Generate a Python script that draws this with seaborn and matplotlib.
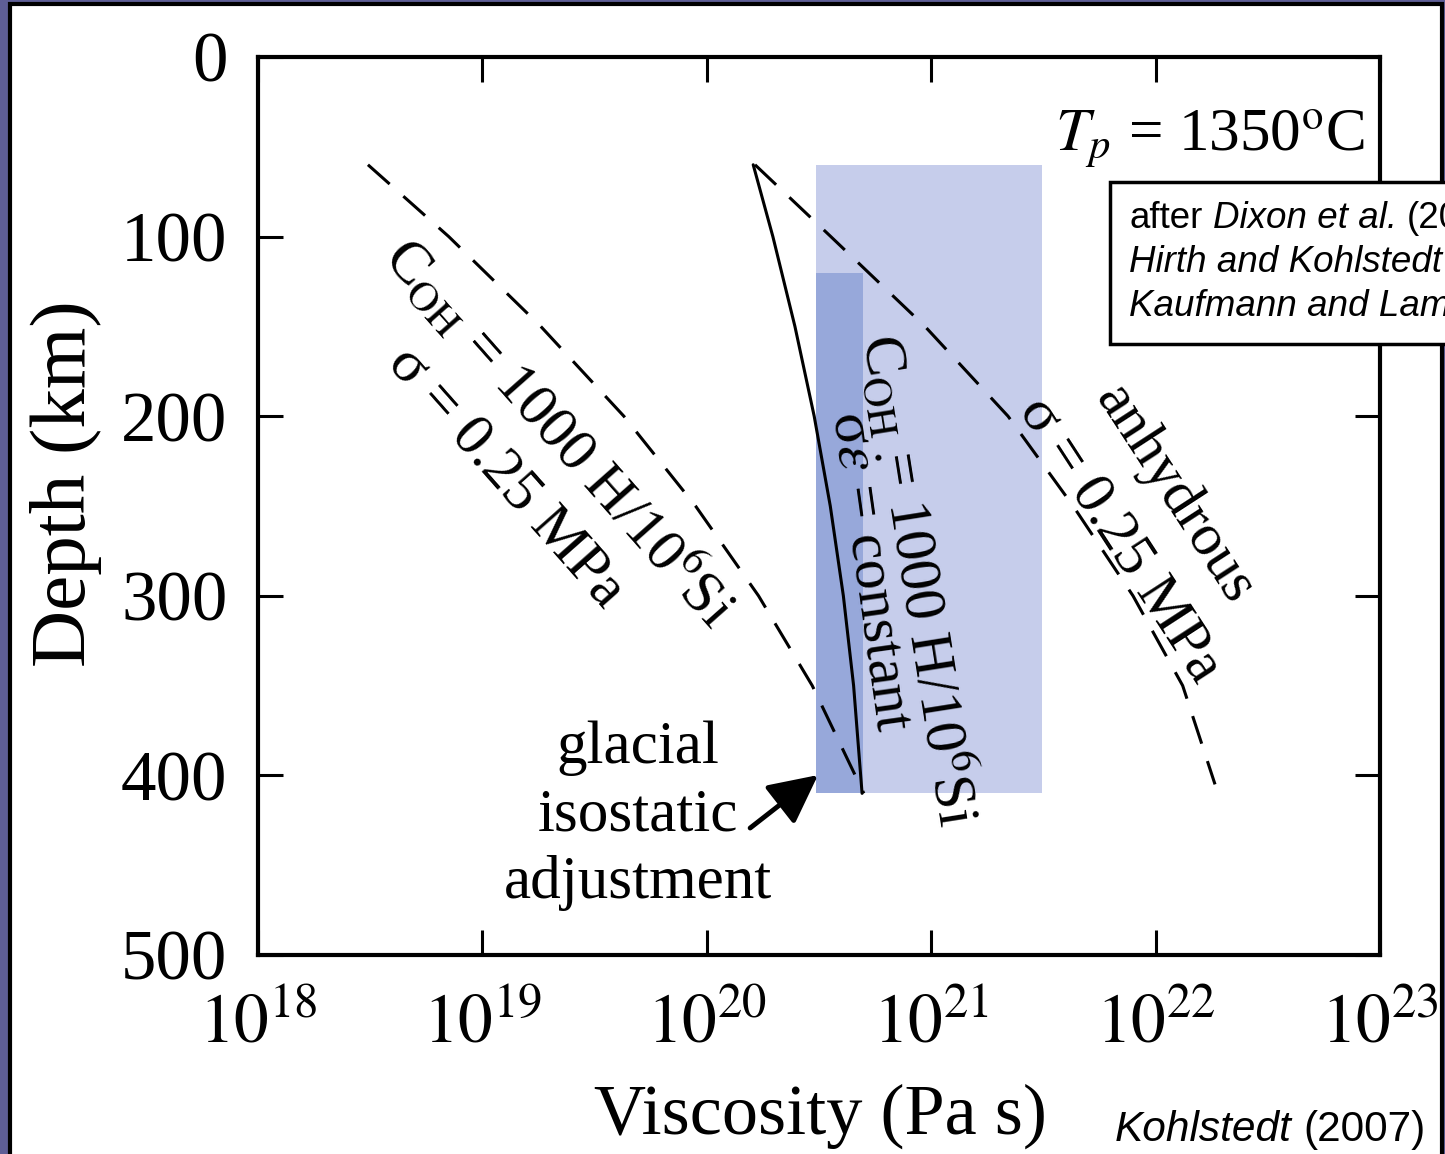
import numpy as np
import pandas as pd
import matplotlib
matplotlib.use("Agg")
import matplotlib.pyplot as plt
import seaborn as sns
from matplotlib.patches import Rectangle
from matplotlib.offsetbox import TextArea, HPacker, VPacker, AnnotationBbox

# ---------------- data ----------------
# wet olivine, constant stress (C_OH = 1000 H/10^6 Si, sigma = 0.25 MPa)
depth_wet_stress = [60, 100, 150, 200, 250, 300, 350, 410]
visc_wet_stress = [3.09e18, 7.08e18, 1.82e19, 4.27e19, 8.91e19, 1.70e20, 2.95e20, 5.01e20]
# anhydrous, sigma = 0.25 MPa
depth_dry_stress = [60, 100, 150, 200, 250, 300, 350, 405]
visc_dry_stress = [1.64e20, 3.57e20, 9.38e20, 2.20e21, 4.29e21, 7.93e21, 1.32e22, 1.84e22]
# wet, sigma * strain rate = constant
depth_wet_rate = [60, 100, 150, 200, 250, 300, 350, 410]
visc_wet_rate = [1.61e20, 1.97e20, 2.47e20, 3.01e20, 3.55e20, 4.06e20, 4.51e20, 4.92e20]

# shaded ranges (glacial isostatic adjustment)
range_visc_light = [3.07e20, 3.12e21]
range_depth_light = [60, 410]
range_visc_dark = [3.07e20, 4.97e20]
range_depth_dark = [120, 410]

x_ticks = [1e18, 1e19, 1e20, 1e21, 1e22, 1e23]
x_tick_labels = [r"$10^{18}$", r"$10^{19}$", r"$10^{20}$", r"$10^{21}$", r"$10^{22}$", r"$10^{23}$"]
y_ticks = [0, 100, 200, 300, 400, 500]
y_tick_labels = ["0", "100", "200", "300", "400", "500"]

# ---------------- style ----------------
sns.set_theme(style="ticks")
plt.rcParams["font.family"] = ["Liberation Serif", "DejaVu Serif"]
plt.rcParams["mathtext.fontset"] = "stix"
plt.rcParams["text.color"] = "black"
plt.rcParams["axes.labelcolor"] = "black"

W, H = 1445, 1154
fig = plt.figure(figsize=(W / 100, H / 100), dpi=100)
fig.patch.set_facecolor("#5e5e96")

# white slide panel with black border
fig.add_artist(Rectangle((10 / W, -0.1), (1442 - 10) / W, 1.1 - 3.5 / H,
                         transform=fig.transFigure, facecolor="white",
                         edgecolor="black", lw=3, zorder=-5))

ax = fig.add_axes([258 / W, (H - 955) / H, (1380 - 258) / W, (955 - 57) / H])
ax.set_facecolor("white")
ax.set_xscale("log")

light = "#c6cdeb"
dark = "#97a8da"
ax.fill_betweenx(range_depth_light, range_visc_light[0], range_visc_light[1],
                 color=light, lw=0, zorder=1)
ax.fill_betweenx(range_depth_dark, range_visc_dark[0], range_visc_dark[1],
                 color=dark, lw=0, zorder=1.1)

dash = (0, (9.5, 6.0))
sns.lineplot(x=visc_wet_stress, y=depth_wet_stress, sort=False, estimator=None,
             color="black", lw=2.2, linestyle=dash, ax=ax, zorder=3)
sns.lineplot(x=visc_dry_stress, y=depth_dry_stress, sort=False, estimator=None,
             color="black", lw=2.2, linestyle=dash, ax=ax, zorder=3)
sns.lineplot(x=visc_wet_rate, y=depth_wet_rate, sort=False, estimator=None,
             color="black", lw=2.2, ax=ax, zorder=3)

ax.set_xlim(1e18, 1e23)
ax.set_ylim(500, 0)
ax.set_xticks(x_ticks)
ax.set_xticklabels(x_tick_labels)
ax.set_yticks(y_ticks)
ax.set_yticklabels(y_tick_labels)
ax.minorticks_off()
ax.tick_params(axis="both", which="major", direction="in", top=True, right=True,
               length=18, width=2.2, color="black", labelcolor="black")
ax.tick_params(axis="x", pad=28, labelsize=50)
ax.tick_params(axis="y", pad=22, labelsize=51)
for s in ax.spines.values():
    s.set_linewidth(3)
    s.set_color("black")

ax.set_xlabel("Viscosity (Pa s)", fontsize=52)
ax.set_ylabel("Depth (km)", fontsize=57)
ax.xaxis.set_label_coords(0.501, -0.143)
ax.yaxis.set_label_coords(-0.139, 0.525)

# curve annotations
tfs = 43
ax.text(2.22e19, 208.8, r"C$_{\mathrm{OH}}$ = 1000 H/10$^6$Si", rotation=-48.5,
        rotation_mode="anchor", ha="center", va="center", fontsize=tfs)
ax.text(1.27e19, 233.9, "σ = 0.25 MPa", rotation=-48.5,
        rotation_mode="anchor", ha="center", va="center", fontsize=tfs)
ax.text(8.83e20, 291.2, r"C$_{\mathrm{OH}}$ = 1000 H/10$^6$Si", rotation=-81,
        rotation_mode="anchor", ha="center", va="center", fontsize=tfs)
ax.text(5.22e20, 286.8, r"σ$\dot{\varepsilon}$ = constant", rotation=-82,
        rotation_mode="anchor", ha="center", va="center", fontsize=tfs)
ax.text(1.22e22, 243.9, "anhydrous", rotation=-57,
        rotation_mode="anchor", ha="center", va="center", fontsize=tfs)
ax.text(6.93e21, 268.9, "σ = 0.25 MPa", rotation=-57,
        rotation_mode="anchor", ha="center", va="center", fontsize=tfs)

ax.text(4.93e19, 422.5, "glacial\nisostatic\nadjustment", ha="center", va="center",
        multialignment="center", fontsize=44, linespacing=1.28)
ax.annotate("", xy=(3.13e20, 399.8), xytext=(1.56e20, 429.3),
            arrowprops=dict(arrowstyle="-|>,head_length=1.0,head_width=0.5",
                            lw=3.5, color="black", mutation_scale=30,
                            shrinkA=0, shrinkB=0), zorder=4)

ax.text(8.57e22, 51.8, r"$T_p$ = 1350$^{\mathrm{o}}$C", ha="right", va="baseline",
        fontsize=44)

# reference box (clipped by the slide edge)
sfs = 26.5
sans = "Liberation Sans"
def ta(s, italic=False, size=sfs):
    return TextArea(s, textprops=dict(family=sans, size=size,
                                      style="italic" if italic else "normal",
                                      color="black"))
rows = [
    HPacker(children=[ta("after"), ta("Dixon et al.", True), ta("(2004)")],
            sep=7, pad=0, align="baseline"),
    HPacker(children=[ta("Hirth and Kohlstedt", True), ta("(2003)")],
            sep=7, pad=0, align="baseline"),
    HPacker(children=[ta("Kaufmann and Lambeck", True), ta("(2002)")],
            sep=7, pad=0, align="baseline"),
]
box = VPacker(children=rows, align="left", pad=14, sep=6.5)
ab = AnnotationBbox(box, (1110, H - 182), xycoords="figure pixels",
                    box_alignment=(0, 1), frameon=True, pad=0,
                    bboxprops=dict(edgecolor="black", facecolor="white", lw=2.5,
                                   boxstyle="square,pad=0"))
ab.set_zorder(10)
fig.add_artist(ab)

cite = HPacker(children=[ta("Kohlstedt", True, 30.5), ta("(2007)", False, 30.5)],
               sep=8, pad=0, align="baseline")
ab2 = AnnotationBbox(cite, (1115, H - 1150), xycoords="figure pixels",
                     box_alignment=(0, 0), frameon=False, pad=0)
ab2.set_zorder(10)
fig.add_artist(ab2)

fig.savefig("out.png", dpi=100, facecolor=fig.get_facecolor())
